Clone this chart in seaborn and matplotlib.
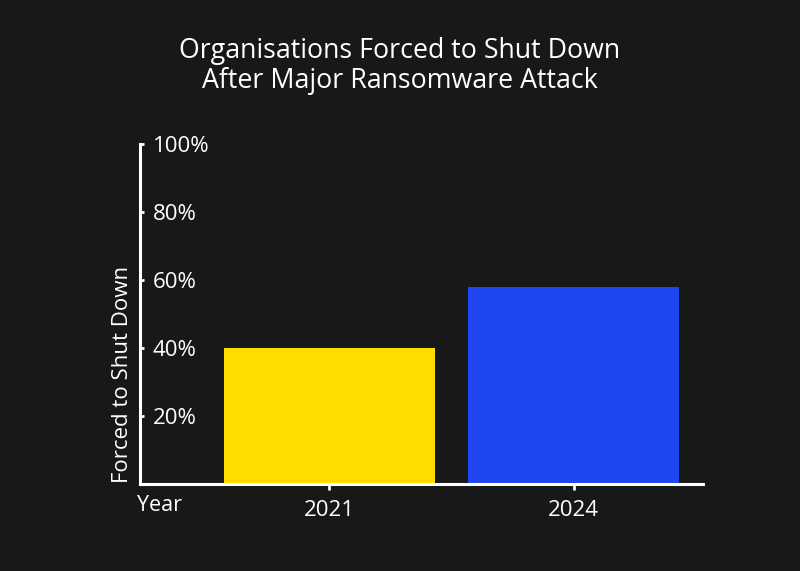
import pandas as pd
import matplotlib.pyplot as plt
import seaborn as sns

years = ["2021", "2024"]
shutdown_pct = [40, 58]
bar_colors = ["#FFDD00", "#1F46F0"]
ytick_vals = [20, 40, 60, 80, 100]
ytick_labels = ["20%", "40%", "60%", "80%", "100%"]

df = pd.DataFrame({"year": years, "pct": shutdown_pct})

bg = "#171818"
sns.set_style("dark")
plt.rcParams["font.family"] = ["Open Sans", "DejaVu Sans"]

fig = plt.figure(figsize=(8, 5.71), dpi=100, facecolor=bg)
ax = fig.add_axes([0.175, 0.152, 0.704, 0.596])
ax.set_facecolor(bg)

sns.barplot(data=df, x="year", y="pct", hue="year", palette=bar_colors,
            width=0.865, saturation=1, legend=False, linewidth=0, ax=ax)

ax.set_xlim(-0.775, 1.53)
ax.set_ylim(0, 100)
ax.grid(False)

for side in ["top", "right"]:
    ax.spines[side].set_visible(False)
for side in ["left", "bottom"]:
    ax.spines[side].set_visible(True)
    ax.spines[side].set_color("white")
    ax.spines[side].set_linewidth(2.2)

ax.set_yticks(ytick_vals)
ax.set_yticklabels(ytick_labels, ha="left")
ax.tick_params(axis="y", direction="in", length=3, width=2, color="white",
               labelcolor="white", labelsize=16, pad=-9, left=True)
ax.tick_params(axis="x", direction="out", length=4, width=2, color="white",
               labelcolor="white", labelsize=16, pad=7.5, bottom=True)
ax.set_xlabel("")
ax.set_ylabel("")

fig.text(137 / 800, 1 - 503 / 571, "Year", color="white", fontsize=15.5,
         ha="left", va="center_baseline")
fig.text(122 / 800, 1 - 483 / 571, "Forced to Shut Down", color="white",
         fontsize=16, rotation=90, ha="center", va="bottom")
fig.text(0.5, 1 - 66 / 571,
         "Organisations Forced to Shut Down\nAfter Major Ransomware Attack",
         color="white", fontsize=19.3, ha="center", va="center",
         linespacing=1.12)

fig.savefig("out.png", dpi=100, facecolor=bg)
